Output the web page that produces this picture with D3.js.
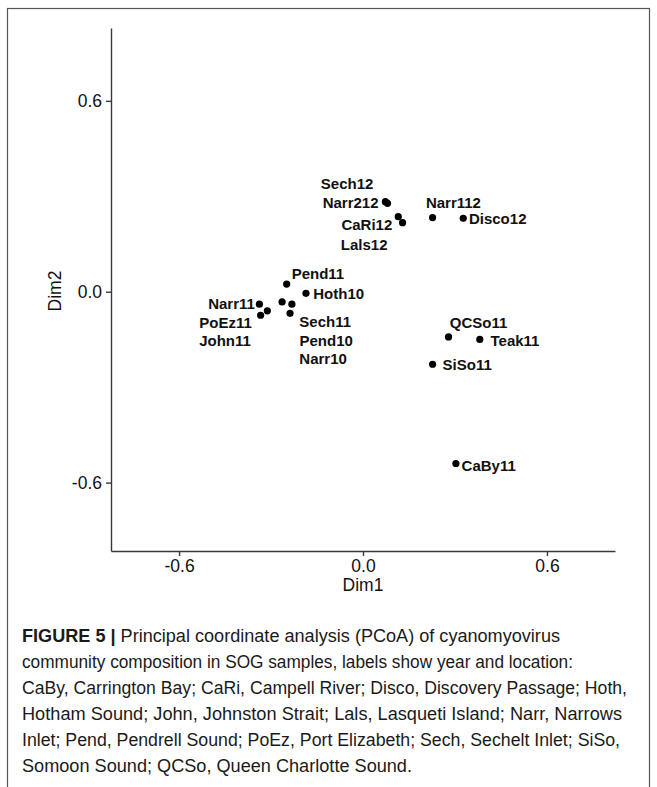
<!DOCTYPE html>
<html>
<head>
<meta charset="utf-8">
<script src="https://cdn.jsdelivr.net/npm/d3@7"></script>
<style>
  html, body { margin: 0; padding: 0; background: #fff; }
  svg { display: block; }
</style>
</head>
<body>
<svg id="chart" width="657" height="787"></svg>
<script>
// ---- data ----
const samples = ["Sech12","Narr212","CaRi12","Lals12","Narr112","Disco12",
  "Pend11","Hoth10","Narr11","PoEz11","John11","Sech11","Pend10","Narr10",
  "QCSo11","Teak11","SiSo11","CaBy11"];
const dim1 = [0.073, 0.080, 0.115, 0.129, 0.227, 0.327,
  -0.249, -0.186, -0.338, -0.312, -0.334, -0.264, -0.232, -0.238,
  0.279, 0.381, 0.227, 0.303];
const dim2 = [0.283, 0.278, 0.236, 0.217, 0.233, 0.231,
  0.024, -0.005, -0.039, -0.060, -0.074, -0.032, -0.039, -0.068,
  -0.142, -0.150, -0.228, -0.540];
const xTicks = [-0.6, 0.0, 0.6];
const yTicks = [-0.6, 0.0, 0.6];
const xTitle = "Dim1";
const yTitle = "Dim2";
const captionBold = "FIGURE 5 |";
const captionLines = [
  " Principal coordinate analysis (PCoA) of cyanomyovirus",
  "community composition in SOG samples, labels show year and location:",
  "CaBy, Carrington Bay; CaRi, Campell River; Disco, Discovery Passage; Hoth,",
  "Hotham Sound; John, Johnston Strait; Lals, Lasqueti Island; Narr, Narrows",
  "Inlet; Pend, Pendrell Sound; PoEz, Port Elizabeth; Sech, Sechelt Inlet; SiSo,",
  "Somoon Sound; QCSo, Queen Charlotte Sound."
];

// ---- layout (label placement in px relative to the point) ----
const labelLayout = {
  Sech12: {a: "end", dx: -12, dy: -18},
  Narr212: {a: "end", dx: -9, dy: -0.5},
  CaRi12: {a: "end", dx: -6, dy: 8.3},
  Lals12: {a: "start", dx: -61.7, dy: 22.3},
  Narr112: {a: "start", dx: -6.7, dy: -15},
  Disco12: {a: "start", dx: 5.7, dy: 0.7},
  Pend11: {a: "start", dx: 5, dy: -10.7},
  Hoth10: {a: "start", dx: 7.3, dy: 0},
  Narr11: {a: "end", dx: -4.5, dy: -0.7},
  PoEz11: {a: "start", dx: -68, dy: 12},
  John11: {a: "start", dx: -61.4, dy: 25.7},
  Sech11: {a: "start", dx: 17.3, dy: 19.7},
  Pend10: {a: "start", dx: 7.6, dy: 36},
  Narr10: {a: "start", dx: 9.3, dy: 45},
  QCSo11: {a: "start", dx: 1.3, dy: -14},
  Teak11: {a: "start", dx: 10.7, dy: 1.4},
  SiSo11: {a: "start", dx: 10, dy: 0.7},
  CaBy11: {a: "start", dx: 5.7, dy: 1.7}
};
const captionWidths = [538, 551, 605, 600, 598, 390];

const svg = d3.select("#chart");
const font = "'Liberation Sans', Arial, Helvetica, sans-serif";

// outer frame
svg.append("rect")
  .attr("x", 7.5).attr("y", 8.5)
  .attr("width", 642).attr("height", 800)
  .attr("fill", "none").attr("stroke", "#555").attr("stroke-width", 1.2);

const x = d3.scaleLinear().domain([-0.822, 0.822]).range([111, 615]);
const y = d3.scaleLinear().domain([-0.815, 0.829]).range([551, 28]);
const fmt = d => d3.format(".1f")(d).replace("\u2212", "-");

// axes
const xAxis = svg.append("g").attr("transform", "translate(0,551)")
  .call(d3.axisBottom(x).tickValues(xTicks).tickFormat(fmt).tickSize(5).tickPadding(4).tickSizeOuter(0));
const yAxis = svg.append("g").attr("transform", "translate(111,0)")
  .call(d3.axisLeft(y).tickValues(yTicks).tickFormat(fmt).tickSize(5).tickPadding(4).tickSizeOuter(0));
[xAxis, yAxis].forEach(g => {
  g.select(".domain").attr("stroke", "#3a3a3a").attr("stroke-width", 1.4);
  g.selectAll(".tick line").attr("stroke", "#3a3a3a").attr("stroke-width", 1.4);
  g.selectAll(".tick text").attr("fill", "#111").attr("font-size", 17.5)
    .attr("font-family", font);
});

svg.append("text").attr("x", 363).attr("y", 591)
  .attr("text-anchor", "middle").attr("font-family", font).attr("font-size", 17.5)
  .attr("fill", "#111").text(xTitle);
svg.append("text").attr("transform", "translate(61,291) rotate(-90)")
  .attr("text-anchor", "middle").attr("font-family", font).attr("font-size", 17.5)
  .attr("fill", "#111").text(yTitle);

// points
const pts = samples.map((s, i) => ({name: s, x: dim1[i], y: dim2[i]}));
svg.append("g").selectAll("circle").data(pts).join("circle")
  .attr("cx", d => x(d.x)).attr("cy", d => y(d.y)).attr("r", 3.6)
  .attr("fill", "#000");

svg.append("g").selectAll("text").data(pts).join("text")
  .attr("x", d => x(d.x) + labelLayout[d.name].dx)
  .attr("y", d => y(d.y) + labelLayout[d.name].dy)
  .attr("dy", "0.36em")
  .attr("text-anchor", d => labelLayout[d.name].a)
  .attr("font-family", font).attr("font-weight", "bold").attr("font-size", 15)
  .attr("fill", "#111")
  .text(d => d.name);

// caption
const capFont = "'Liberation Sans Narrow', 'Liberation Sans', Arial, sans-serif";
captionLines.forEach((line, i) => {
  const t = svg.append("text")
    .attr("x", 22).attr("y", 642 + i * 26)
    .attr("font-family", capFont).attr("font-size", 17.5).attr("fill", "#1a1a1a")
    .attr("textLength", captionWidths[i]).attr("lengthAdjust", "spacingAndGlyphs");
  if (i === 0) {
    t.append("tspan").attr("font-weight", "bold").text(captionBold);
  }
  t.append("tspan").text(line);
});
</script>
</body>
</html>
